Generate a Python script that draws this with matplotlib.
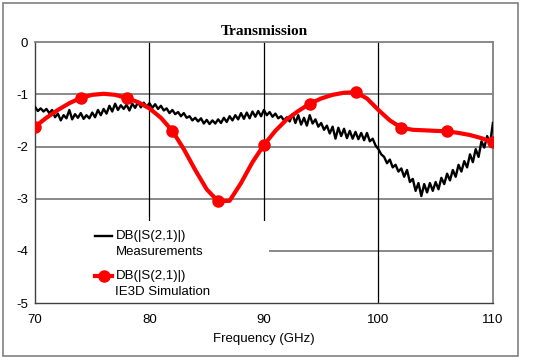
import numpy as np
import matplotlib
matplotlib.use('Agg')
import matplotlib.pyplot as plt
from matplotlib.patches import Rectangle

# simulation (IE3D), read every 1 GHz
sim_freq = list(range(70, 111))
sim_db = [-1.62, -1.45, -1.30, -1.17, -1.07, -1.01, -0.99, -1.01, -1.07, -1.15,
          -1.27, -1.45, -1.70, -2.05, -2.45, -2.82, -3.05, -3.04, -2.70, -2.30,
          -1.97, -1.70, -1.48, -1.32, -1.18, -1.08, -1.01, -0.97, -0.96, -1.08,
          -1.30, -1.50, -1.64, -1.68, -1.69, -1.70, -1.71, -1.74, -1.78, -1.84,
          -1.92]

# measurements, read every 0.25 GHz
meas_db = [
    -1.24, -1.32, -1.27, -1.33, -1.28, -1.36, -1.30, -1.44,
    -1.37, -1.50, -1.40, -1.46, -1.30, -1.48, -1.38, -1.45,
    -1.36, -1.47, -1.40, -1.46, -1.35, -1.44, -1.30, -1.40,
    -1.28, -1.37, -1.22, -1.33, -1.18, -1.30, -1.21, -1.28,
    -1.20, -1.31, -1.18, -1.26, -1.15, -1.25, -1.16, -1.24,
    -1.17, -1.26, -1.19, -1.28, -1.22, -1.31, -1.27, -1.36,
    -1.30, -1.38, -1.34, -1.42, -1.36, -1.45, -1.42, -1.50,
    -1.45, -1.52, -1.46, -1.56, -1.49, -1.57, -1.50, -1.56,
    -1.48, -1.55, -1.45, -1.53, -1.42, -1.50, -1.40, -1.48,
    -1.36, -1.47, -1.35, -1.46, -1.33, -1.43, -1.32, -1.42,
    -1.30, -1.40, -1.34, -1.43, -1.37, -1.46, -1.42, -1.50,
    -1.44, -1.52, -1.38, -1.55, -1.40, -1.58, -1.45, -1.60,
    -1.40, -1.56, -1.48, -1.62, -1.55, -1.68, -1.60, -1.75,
    -1.62, -1.85, -1.64, -1.80, -1.66, -1.84, -1.70, -1.85,
    -1.72, -1.86, -1.74, -1.88, -1.74, -1.90, -1.85, -1.98,
    -2.05, -2.15, -2.20, -2.32, -2.25, -2.40, -2.35, -2.48,
    -2.42, -2.58, -2.45, -2.68, -2.62, -2.85, -2.70, -2.95,
    -2.72, -2.88, -2.70, -2.85, -2.68, -2.82, -2.60, -2.72,
    -2.52, -2.65, -2.45, -2.58, -2.35, -2.48, -2.28, -2.40,
    -2.15, -2.30, -2.05, -2.20, -1.90, -2.02, -1.80, -1.95,
    -1.55]
meas_freq = np.linspace(70, 110, len(meas_db))

xticks = [70, 80, 90, 100, 110]
yticks = [0, -1, -2, -3, -4, -5]

plt.rcParams['font.family'] = 'Liberation Sans'
plt.rcParams['axes.unicode_minus'] = False
fig = plt.figure(figsize=(5.34, 3.63), dpi=100)
ax = fig.add_axes([0.0655, 0.165, 0.8575, 0.719])

# outer frame
fig.patches.append(Rectangle((0.006, 0.019), 0.964, 0.972, transform=fig.transFigure,
                             fill=False, edgecolor='#808080', lw=1.2))

for v in [-1, -2, -3, -4]:
    ax.axhline(v, color='#808080', lw=1.3, zorder=1)
for f in [80, 90, 100]:
    ax.axvline(f, color='black', lw=0.9, zorder=1)

# white area behind the legend
ax.add_patch(Rectangle((70, -5), 20.45, 1.57, facecolor='white', edgecolor='none', zorder=2))

ax.plot(meas_freq, meas_db, color='black', lw=1.7, zorder=3,
        label='DB(|S(2,1)|)\nMeasurements')
ax.plot(sim_freq, sim_db, color='#ff0000', lw=3, marker='o', markersize=8,
        markevery=4, zorder=4, label='DB(|S(2,1)|)\nIE3D Simulation')

ax.set_xlim(70, 110)
ax.set_ylim(-5, 0)
ax.set_xticks(xticks)
ax.set_yticks(yticks)
ax.tick_params(axis='x', length=0, labelsize=9.5, pad=8)
ax.tick_params(axis='y', length=0, labelsize=9.5, pad=5)
for s in ['top', 'right']:
    ax.spines[s].set_color('#808080')
    ax.spines[s].set_linewidth(1.3)
for s in ['left', 'bottom']:
    ax.spines[s].set_color('#404040')
    ax.spines[s].set_linewidth(1.0)

ax.set_title('Transmission', family='Liberation Serif', fontweight='bold',
             fontsize=11, pad=5)
ax.set_xlabel('Frequency (GHz)', fontsize=9.5, labelpad=5)

leg = ax.legend(loc='lower left', bbox_to_anchor=(0.105, -0.025), frameon=False,
                fontsize=9.5, handlelength=1.3, handletextpad=0.25, labelspacing=0.9)
for t in leg.get_texts():
    t.set_linespacing(1.45)
# line up the handles with the first text line
for h in leg.legend_handles:
    h.set_ydata(np.asarray(h.get_ydata()) + 5.5)

plt.savefig('out.png', dpi=100)
